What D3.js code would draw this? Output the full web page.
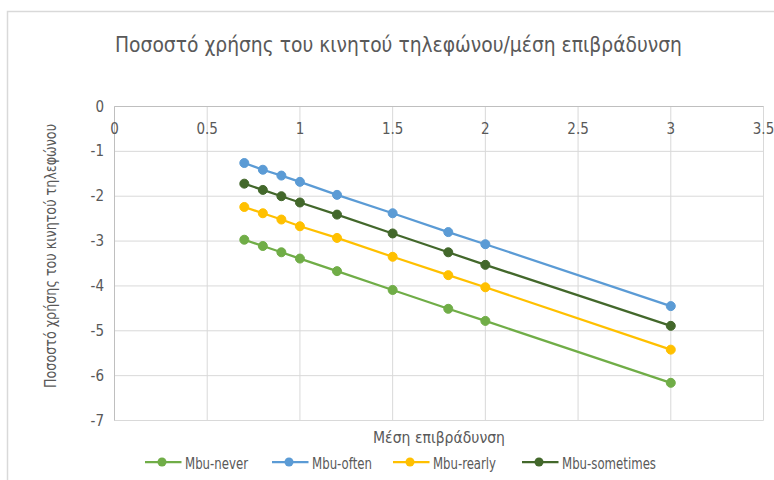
<!DOCTYPE html>
<html><head><meta charset="utf-8">
<script src="https://cdn.jsdelivr.net/npm/d3@7"></script>
<style>body{margin:0;background:#fff;} text{font-family:"Liberation Sans Narrow","DejaVu Sans Condensed","Liberation Sans",sans-serif;fill:#595959;}</style>
</head><body>
<svg id="c" width="774" height="480"></svg>
<script>
const xValues = [0.7, 0.8, 0.9, 1.0, 1.2, 1.5, 1.8, 2.0, 3.0];
const seriesNames = ["Mbu-never", "Mbu-often", "Mbu-rearly", "Mbu-sometimes"];
const mbuNever = [-2.97, -3.11, -3.25, -3.39, -3.67, -4.09, -4.51, -4.78, -6.16];
const mbuOften = [-1.26, -1.41, -1.54, -1.68, -1.97, -2.38, -2.80, -3.07, -4.45];
const mbuRearly = [-2.24, -2.38, -2.52, -2.67, -2.93, -3.35, -3.76, -4.03, -5.42];
const mbuSometimes = [-1.72, -1.86, -2.00, -2.14, -2.41, -2.83, -3.25, -3.53, -4.89];
const xTicks = [0, 0.5, 1, 1.5, 2, 2.5, 3, 3.5];
const yTicks = [0, -1, -2, -3, -4, -5, -6, -7];
const colors = ["#70AD47", "#5B9BD5", "#FFC000", "#43682B"];
const titleText = "Ποσοστό χρήσης του κινητού τηλεφώνου/μέση επιβράδυνση";
const xTitle = "Μέση επιβράδυνση";
const yTitle = "Ποσοστό χρήσης του κινητού τηλεφώνου";

const allSeries = [mbuNever, mbuOften, mbuRearly, mbuSometimes];
const svg = d3.select("#c");

// chart border
svg.append("rect").attr("x", 7.5).attr("y", 11.5).attr("width", 800).attr("height", 500)
  .attr("fill", "none").attr("stroke", "#d9d9d9").attr("stroke-width", 1.5);

const x = d3.scaleLinear().domain([0, 3.5]).range([114.5, 763.5]);
const y = d3.scaleLinear().domain([0, -7]).range([106.5, 420.5]);

// gridlines
svg.append("g").selectAll("line").data(xTicks).join("line")
  .attr("x1", d => x(d)).attr("x2", d => x(d)).attr("y1", y(0)).attr("y2", y(-7))
  .attr("stroke", "#d9d9d9").attr("stroke-width", 1);
svg.append("g").selectAll("line").data(yTicks).join("line")
  .attr("x1", x(0)).attr("x2", x(3.5)).attr("y1", d => y(d)).attr("y2", d => y(d))
  .attr("stroke", "#d9d9d9").attr("stroke-width", 1);
// axis lines
svg.append("line").attr("x1", x(0)).attr("x2", x(3.5)).attr("y1", y(0)).attr("y2", y(0)).attr("stroke", "#bfbfbf");
svg.append("line").attr("x1", x(0)).attr("x2", x(0)).attr("y1", y(0)).attr("y2", y(-7)).attr("stroke", "#bfbfbf");

// tick labels
svg.append("g").selectAll("text").data(xTicks).join("text")
  .attr("x", d => x(d)).attr("y", 134).attr("text-anchor", "middle")
  .style("font-size", "15px").text(d => d);
svg.append("g").selectAll("text").data(yTicks).join("text")
  .attr("x", 104).attr("y", d => y(d) + 5).attr("text-anchor", "end")
  .style("font-size", "15px").text(d => d === 0 ? "0" : "-" + Math.abs(d));

// titles
svg.append("text").attr("x", 398.5).attr("y", 52).attr("text-anchor", "middle")
  .style("font-size", "21px").attr("textLength", 567).attr("lengthAdjust", "spacingAndGlyphs").text(titleText);
svg.append("text").attr("x", 439).attr("y", 443).attr("text-anchor", "middle")
  .style("font-size", "15px").attr("textLength", 132).attr("lengthAdjust", "spacingAndGlyphs").text(xTitle);
svg.append("text").attr("transform", "translate(56,256) rotate(-90)").attr("text-anchor", "middle")
  .style("font-size", "15px").attr("textLength", 264).attr("lengthAdjust", "spacingAndGlyphs").text(yTitle);

// series
const line = d3.line().x((d, i) => x(xValues[i])).y(d => y(d));
allSeries.forEach((s, k) => {
  const g = svg.append("g");
  g.append("path").datum(s).attr("d", line).attr("fill", "none")
    .attr("stroke", colors[k]).attr("stroke-width", 2.25);
  g.selectAll("circle").data(s).join("circle")
    .attr("cx", (d, i) => x(xValues[i])).attr("cy", d => y(d)).attr("r", 4.5)
    .attr("fill", colors[k]).attr("stroke", colors[k]);
});

// legend
const legX = [145, 272, 393, 522];
const legW = [63, 60, 63, 94];
seriesNames.forEach((n, k) => {
  const g = svg.append("g").attr("transform", `translate(${legX[k]},462)`);
  g.append("line").attr("x1", 0).attr("x2", 36.5).attr("stroke", colors[k]).attr("stroke-width", 2.25);
  g.append("circle").attr("cx", 17).attr("r", 4.5).attr("fill", colors[k]);
  g.append("text").attr("x", 40).attr("y", 6.5).style("font-size", "15px")
    .attr("textLength", legW[k]).attr("lengthAdjust", "spacingAndGlyphs").text(n);
});
</script>
</body></html>
